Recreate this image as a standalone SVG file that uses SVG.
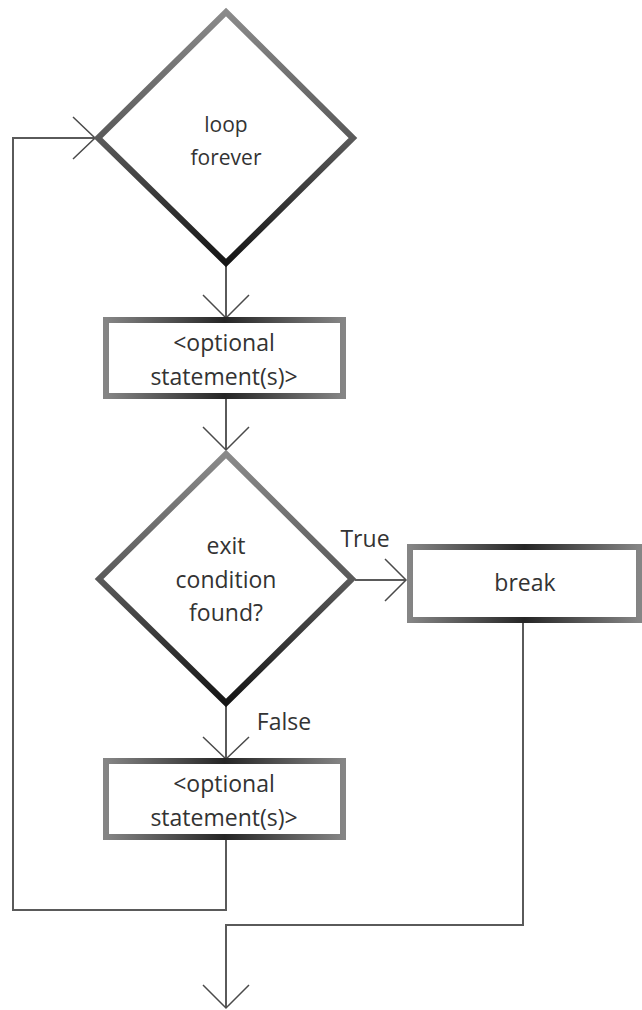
<svg xmlns="http://www.w3.org/2000/svg" width="642" height="1010" viewBox="0 0 642 1010">
<style>
.t{font-family:"Open Sans","Noto Sans","Liberation Sans",sans-serif;font-size:23px;fill:#333;text-anchor:middle;dominant-baseline:central}
.t2{font-size:21px}
.c{fill:none;stroke:#5a5a5a;stroke-width:2}
.a{fill:none;stroke:#4a4a4a;stroke-width:1.5}
.d{fill:#fff;stroke:url(#gd);stroke-width:6;stroke-linejoin:miter}
.b{fill:#fff;stroke:url(#gb);stroke-width:6}
</style>
<defs>
<linearGradient id="gd" x1="0" y1="0" x2="0" y2="1">
<stop offset="0" stop-color="#8a8a8a"/>
<stop offset="0.5" stop-color="#5a5a5a"/>
<stop offset="1" stop-color="#151515"/>
</linearGradient>
<linearGradient id="gb" x1="0" y1="0" x2="1" y2="0">
<stop offset="0" stop-color="#858585"/>
<stop offset="0.5" stop-color="#252525"/>
<stop offset="1" stop-color="#858585"/>
</linearGradient>
</defs>
<rect width="642" height="1010" fill="#fff"/>
<g id="connectors">
<polyline class="c" points="226,838 226,910 13,910 13,138 95,138"/>
<polyline class="a" points="73,117 95,138 73,159"/>
<line class="c" x1="226" y1="265" x2="226" y2="317"/>
<polyline class="a" points="203,295 226,318 249,295"/>
<line class="c" x1="226" y1="397" x2="226" y2="450"/>
<polyline class="a" points="203,427 226,450 249,427"/>
<line class="c" x1="355" y1="580" x2="406" y2="580"/>
<polyline class="a" points="385,559 406,580 385,601"/>
<text class="t" x="365" y="538">True</text>
<line class="c" x1="226" y1="705" x2="226" y2="758"/>
<polyline class="a" points="203,737 226,759 249,737"/>
<text class="t" x="284" y="721">False</text>
<polyline class="c" points="523,622 523,925 226,925 226,1008"/>
<polyline class="a" points="203,985 226,1008 249,985"/>
</g>
<g id="loop">
<polygon class="d" points="226,12 353,138 226,263 98,138"/>
<text class="t t2" x="226" y="124">loop</text>
<text class="t t2" x="226" y="157">forever</text>
</g>
<g id="stmt1">
<rect class="b" x="106" y="320" width="237" height="76"/>
<text class="t" x="224" y="342">&lt;optional</text>
<text class="t" x="224" y="376">statement(s)&gt;</text>
</g>
<g id="exit">
<polygon class="d" points="226,454 352,579 226,703 99,579"/>
<text class="t" x="226" y="545">exit</text>
<text class="t" x="226" y="579">condition</text>
<text class="t" x="226" y="612">found?</text>
</g>
<g id="break">
<rect class="b" x="410" y="547" width="229" height="73"/>
<text class="t" x="525" y="582">break</text>
</g>
<g id="stmt2">
<rect class="b" x="106" y="761" width="237" height="76"/>
<text class="t" x="224" y="783">&lt;optional</text>
<text class="t" x="224" y="817">statement(s)&gt;</text>
</g>
</svg>
